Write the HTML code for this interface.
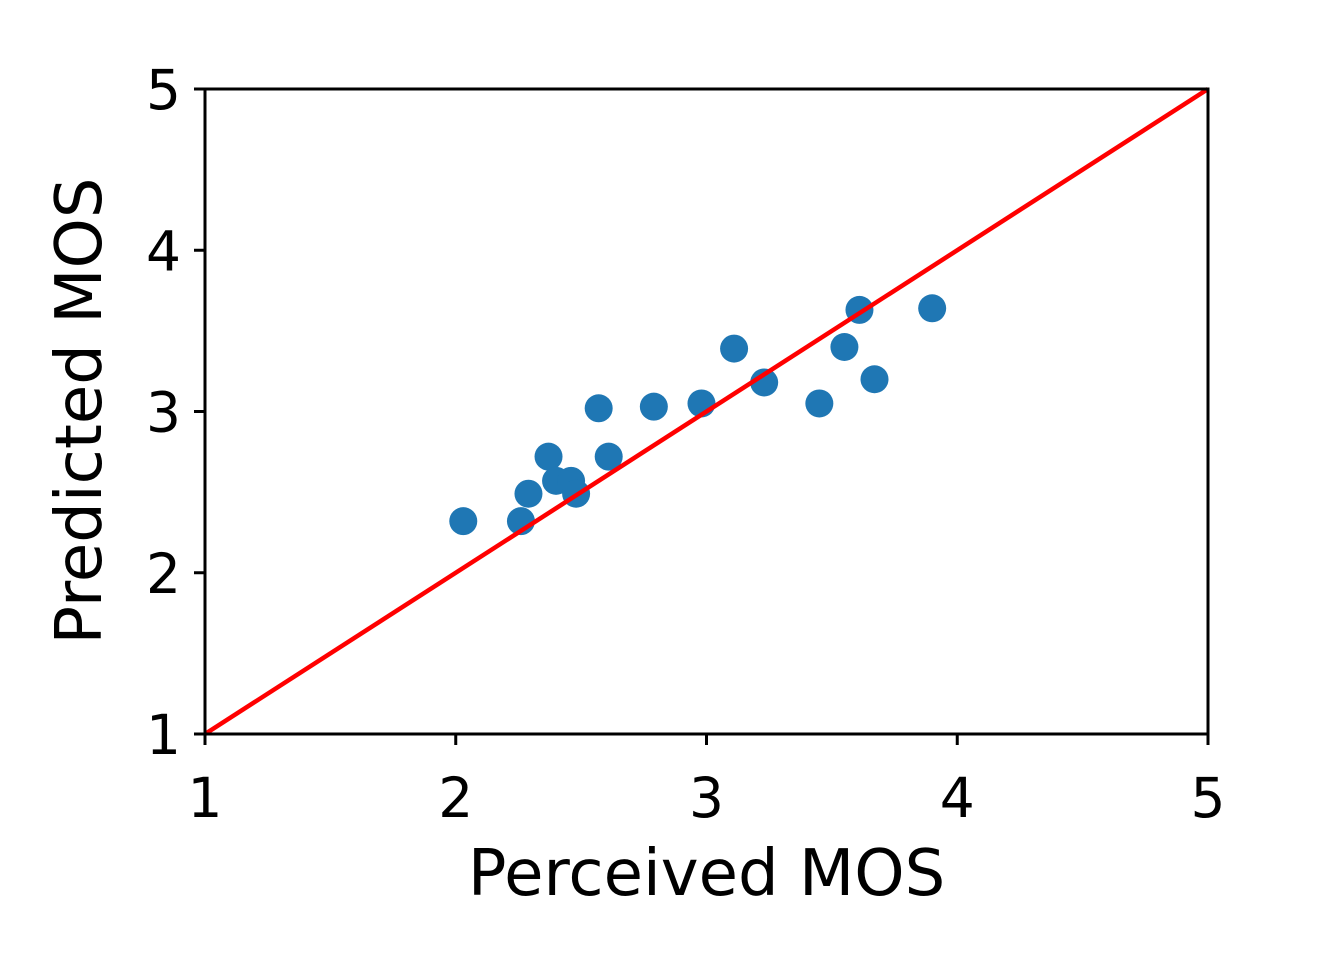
<!DOCTYPE html>
<html><head><meta charset="utf-8"><style>
html,body{margin:0;padding:0;background:#fff;}
svg{display:block;font-family:"DejaVu Sans","Liberation Sans",sans-serif;}
</style></head><body>
<svg id="chart" width="1341" height="965" viewBox="0 0 1341 965">
<g id="plot"></g>
</svg>
<script>
const xValues=[2.03,2.26,2.29,2.37,2.40,2.46,2.48,2.57,2.61,2.79,2.98,3.11,3.23,3.45,3.55,3.61,3.67,3.90];
const yValues=[2.32,2.32,2.49,2.72,2.57,2.57,2.49,3.02,2.72,3.03,3.05,3.39,3.18,3.05,3.40,3.63,3.20,3.64];
const xTicks=[1,2,3,4,5];
const yTicks=[1,2,3,4,5];
const L=205,R=1208,T=89,B=734;
const sx=v=>L+(v-1)/4*(R-L);
const sy=v=>B-(v-1)/4*(B-T);
const ns="http://www.w3.org/2000/svg";
const g=document.getElementById('plot');
function mk(tag,attrs){const e=document.createElementNS(ns,tag);for(const k in attrs)e.setAttribute(k,attrs[k]);g.appendChild(e);return e;}
xValues.forEach((x,i)=>{
  const c=mk('circle',{cx:sx(x),cy:sy(yValues[i]),r:14,fill:'#1f77b4'});
  
  
});
const line=mk('line',{x1:sx(1),y1:sy(1),x2:sx(5),y2:sy(5),stroke:'#ff0000','stroke-width':4.5});


const frame=mk('rect',{x:L,y:T,width:R-L,height:B-T,fill:'none',stroke:'#000','stroke-width':3});


xTicks.forEach(t=>{
  mk('line',{x1:sx(t),y1:B,x2:sx(t),y2:B+11,stroke:'#000','stroke-width':3});
  const tx=mk('text',{x:sx(t),y:B+83,'text-anchor':'middle','font-size':55,fill:'#000'});
  tx.textContent=t;
  
  
});
yTicks.forEach(t=>{
  mk('line',{x1:L,y1:sy(t),x2:L-11,y2:sy(t),stroke:'#000','stroke-width':3});
  const tx=mk('text',{x:L-24,y:sy(t)+20,'text-anchor':'end','font-size':55,fill:'#000'});
  tx.textContent=t;
  
  
});
const xt=mk('text',{x:(L+R)/2,y:895,'text-anchor':'middle','font-size':64,fill:'#000'});
xt.textContent='Perceived MOS';


const yt=mk('text',{x:0,y:0,'text-anchor':'middle','font-size':64,fill:'#000',transform:'translate(101,411) rotate(-90)'});
yt.textContent='Predicted MOS';


</script>
</body></html>
